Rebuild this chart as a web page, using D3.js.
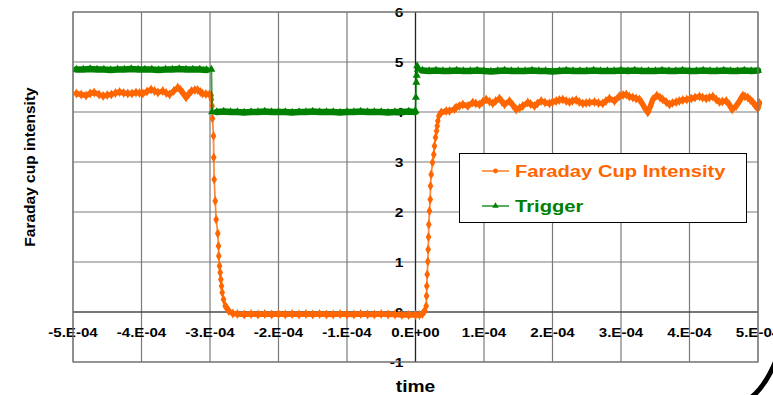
<!DOCTYPE html>
<meta charset="utf-8">
<script src="https://d3js.org/d3.v7.min.js"></script>
<style>
body { margin: 0; background: #fff; }
text { font-family: "Liberation Sans", Arial, sans-serif; font-weight: bold; }
</style>
<div id="chart"></div>
<script>
// time in microseconds
var cupTime = [-495,-488,-481,-475,-469,-462,-456,-450,-444,-438,-432,-426,-420,-414,-408,-403,-398,-392,-386,-381,-376,-369,-364,-359,-353,-347,-343,-340,-335,-331,-327,-322,-318,-314,-311,-306,-301,
  -298.2,-297.8,-296.8,-296.4,-294.9,-294.5,-293.9,-292.4,-291,-288.6,-287.6,-287.2,-286.1,-285.1,-284.2,-283.2,-282.2,-280.3,-277.4,-272.6,-266.7,
  -260,-250,-240,-230,-220,-210,-200,-190,-180,-170,-160,-150,-140,-130,-120,-110,-100,-90,-80,-70,-60,-50,-40,-30,-20,-10,0,5.8,
  10,13.1,15.6,16.1,16.5,17.1,18,18.5,19,19.4,20.4,21.5,21.9,22.9,24.8,26.7,27.7,29.2,30.7,31.7,32.6,34,37.5,44.8,
  49.6,56.9,59.4,64,69,76.4,83.6,88,93.4,98,103.2,108,112.8,117,122.6,126,129.9,137.2,142,147,152,156.6,163.9,168,173.7,178,183.5,189,195.6,200,205.4,210,215,220,224.8,229,234.6,239,244.2,249,254,261.3,267,273.4,278,283.2,290.5,297.8,303,307.6,312,317.2,322,327,331,334.3,339.1,343,346.4,352.3,357,361,366,370.8,375,380.6,385,390.2,396,402.5,408,414.6,419,424.4,429,434,439,443.8,448,453.6,458,462.3,468.2,473,477.8,481,485.1,489,492.4,496,499.7,502];
var cupValue = [4.37,4.35,4.33,4.37,4.39,4.35,4.32,4.34,4.35,4.38,4.40,4.38,4.37,4.37,4.39,4.38,4.37,4.41,4.45,4.42,4.39,4.42,4.38,4.35,4.42,4.49,4.44,4.39,4.29,4.36,4.42,4.44,4.44,4.40,4.37,4.36,4.35,
  4.33,4.25,4.12,3.87,3.52,3.09,2.65,2.22,1.85,1.57,1.32,1.12,0.92,0.79,0.65,0.52,0.39,0.25,0.12,0.02,-0.03,
  -0.04,-0.05,-0.04,-0.05,-0.04,-0.05,-0.04,-0.05,-0.04,-0.05,-0.04,-0.05,-0.04,-0.05,-0.05,-0.04,-0.05,-0.05,-0.04,-0.05,-0.05,-0.04,-0.05,-0.05,-0.06,-0.06,-0.06,-0.06,
  -0.04,0.02,0.12,0.32,0.52,0.75,1.01,1.25,1.50,1.75,2.02,2.25,2.52,2.75,2.99,3.15,3.32,3.49,3.62,3.72,3.82,3.92,3.99,4.02,
  4.02,4.06,4.09,4.12,4.15,4.12,4.19,4.17,4.15,4.20,4.25,4.21,4.17,4.22,4.27,4.21,4.15,4.22,4.14,4.05,4.08,4.12,4.19,4.16,4.12,4.17,4.22,4.19,4.17,4.20,4.22,4.24,4.25,4.22,4.20,4.22,4.24,4.20,4.17,4.18,4.19,4.20,4.18,4.17,4.22,4.27,4.22,4.32,4.34,4.35,4.31,4.29,4.27,4.25,4.17,4.09,3.99,4.12,4.25,4.33,4.29,4.25,4.20,4.15,4.18,4.20,4.22,4.24,4.25,4.27,4.29,4.31,4.29,4.27,4.29,4.31,4.25,4.20,4.21,4.22,4.15,4.05,4.12,4.22,4.33,4.31,4.29,4.24,4.20,4.13,4.07,4.18];

var trigTime = [-495,-485,-475,-465,-455,-445,-435,-425,-415,-405,-395,-385,-375,-365,-355,-345,-335,-325,-315,-305,-298,
  -297,-290,-280,-270,-260,-250,-240,-230,-220,-210,-200,-190,-180,-170,-160,-150,-140,-130,-120,-110,-100,-90,-80,-70,-60,-50,-40,-30,-20,-10,-1,
  0,0.6,1.2,1.8,2.4,3.5,
  10,20,30,40,50,60,70,80,90,100,
  110,120,130,140,150,160,170,180,190,200,
  210,220,230,240,250,260,270,280,290,300,
  310,320,330,340,350,360,370,380,390,400,
  410,420,430,440,450,460,470,480,490,500];
var trigValue = [4.85,4.85,4.86,4.85,4.85,4.84,4.85,4.85,4.86,4.85,4.85,4.85,4.84,4.85,4.85,4.86,4.85,4.85,4.85,4.84,4.85,
  4.00,4.00,4.01,4.00,4.00,3.99,4.00,4.00,4.01,4.00,4.00,4.00,3.99,4.00,4.00,4.01,4.00,4.00,4.00,3.99,4.00,4.00,4.01,4.00,4.00,4.00,3.99,4.00,4.00,4.01,4.00,
  4.02,4.29,4.59,4.73,4.92,4.85,
  4.83,4.82,4.83,4.82,4.82,4.83,4.82,4.82,4.83,4.82,
  4.81,4.82,4.83,4.82,4.82,4.82,4.83,4.82,4.82,4.81,
  4.82,4.83,4.82,4.82,4.82,4.83,4.82,4.82,4.82,4.83,
  4.82,4.83,4.82,4.82,4.82,4.83,4.82,4.82,4.83,4.82,
  4.82,4.83,4.82,4.82,4.83,4.82,4.82,4.83,4.82,4.83];

var xTicks = [-500,-400,-300,-200,-100,0,100,200,300,400,500];
var yTicks = [-1,0,1,2,3,4,5,6];
var seriesNames = ["Faraday Cup Intensity", "Trigger"];

var width = 773, height = 395;
var orange = "#ff6600", green = "#008000";

var svg = d3.select("#chart").append("svg")
  .attr("width", width)
  .attr("height", height);

var x = d3.scaleLinear().domain([-500, 500]).range([73, 758]);
var y = d3.scaleLinear().domain([-1, 6]).range([362, 12]);

// text is a bit wider than normal, like the original
function wideText(px, py, str, size, anchor, color) {
  var g = svg.append("g").attr("transform", "translate(" + px + "," + py + ") scale(1.2,1)");
  return g.append("text")
    .attr("text-anchor", anchor)
    .style("font-size", size + "px")
    .attr("fill", color || "#000")
    .text(str);
}

// grid
svg.append("g").selectAll("line").data(xTicks).join("line")
  .attr("x1", d => x(d)).attr("x2", d => x(d))
  .attr("y1", y(6)).attr("y2", y(-1))
  .attr("stroke", "#7a7a7a").attr("stroke-width", 1.2);
svg.append("g").selectAll("line").data(yTicks).join("line")
  .attr("x1", x(-500)).attr("x2", x(500))
  .attr("y1", d => y(d)).attr("y2", d => y(d))
  .attr("stroke", "#7a7a7a").attr("stroke-width", 1.2);

// axes through zero
svg.append("line").attr("x1", x(-500)).attr("x2", x(500)).attr("y1", y(0)).attr("y2", y(0))
  .attr("stroke", "#333").attr("stroke-width", 1.2);
svg.append("line").attr("x1", x(0)).attr("x2", x(0)).attr("y1", y(6)).attr("y2", y(-1))
  .attr("stroke", "#222").attr("stroke-width", 1.2);

function fmtX(d) {
  if (d === 0) return "0.E+00";
  return (d / 100) + ".E-04";
}
xTicks.forEach(function(d) { wideText(x(d), y(0) + 25, fmtX(d), 12.6, "middle"); });
yTicks.forEach(function(d) { wideText(x(0) - 12, y(d) + 5, String(d), 13, "end"); });

function build(times, values) {
  var pts = times.map((t, i) => ({t: t, v: values[i]}));
  pts.forEach(function(p, i) {
    var a = i > 0 ? Math.abs(p.v - pts[i-1].v) / (p.t - pts[i-1].t) : 0;
    var b = i < pts.length - 1 ? Math.abs(pts[i+1].v - p.v) / (pts[i+1].t - p.t) : 0;
    p.flat = a < 0.05 && b < 0.05;
  });
  return pts;
}
var cup = build(cupTime, cupValue);
var trig = build(trigTime, trigValue);

var line = d3.line().x(d => x(d.t)).y(d => y(d.v));
var band = d3.line().defined(d => d.flat).x(d => x(d.t)).y(d => y(d.v));

function drawSeries(pts, color, symbol, bandWidth) {
  svg.append("path").datum(pts)
    .attr("fill", "none").attr("stroke", color).attr("stroke-opacity", 0.75)
    .attr("stroke-width", 1.8).attr("d", line);
  svg.append("path").datum(pts)
    .attr("fill", "none").attr("stroke", color)
    .attr("stroke-width", bandWidth).attr("stroke-linejoin", "round").attr("stroke-linecap", "round")
    .attr("d", band);
  svg.append("g").selectAll("path").data(pts).join("path")
    .attr("transform", d => "translate(" + x(d.t) + "," + y(d.v) + ")")
    .attr("d", d3.symbol().type(symbol).size(28))
    .attr("fill", color);
}
drawSeries(cup, orange, d3.symbolDiamond, 5.5);
drawSeries(trig, green, d3.symbolTriangle, 6.5);

// legend
var lg = svg.append("g");
lg.append("rect").attr("x", 459.5).attr("y", 153.5).attr("width", 287).attr("height", 69)
  .attr("fill", "#fff").attr("stroke", "#000").attr("stroke-width", 1);
[orange, green].forEach(function(c, i) {
  var ly = 171 + i * 35;
  lg.append("line").attr("x1", 482).attr("x2", 509).attr("y1", ly).attr("y2", ly)
    .attr("stroke", c).attr("stroke-width", 1.3);
  lg.append("path").attr("transform", "translate(495.5," + ly + ")")
    .attr("d", d3.symbol().type(i === 0 ? d3.symbolCircle : d3.symbolTriangle).size(18))
    .attr("fill", c);
  wideText(515, ly + 6, seriesNames[i], 16.8, "start", c);
});

// axis titles
wideText(x(0), 392, "time", 16, "middle");
svg.append("text")
  .attr("transform", "translate(35,167) rotate(-90)")
  .attr("text-anchor", "middle")
  .style("font-size", "15.5px")
  .text("Faraday cup intensity");

// plot frame
svg.append("rect").attr("x", x(-500)).attr("y", y(6)).attr("width", x(500) - x(-500)).attr("height", y(-1) - y(6))
  .attr("fill", "none").attr("stroke", "#7a7a7a").attr("stroke-width", 1.2);

// corner stroke at bottom right
svg.append("path").attr("d", "M749,399 Q765,388 777,358")
  .attr("fill", "none").attr("stroke", "#000").attr("stroke-width", 5);
</script>
